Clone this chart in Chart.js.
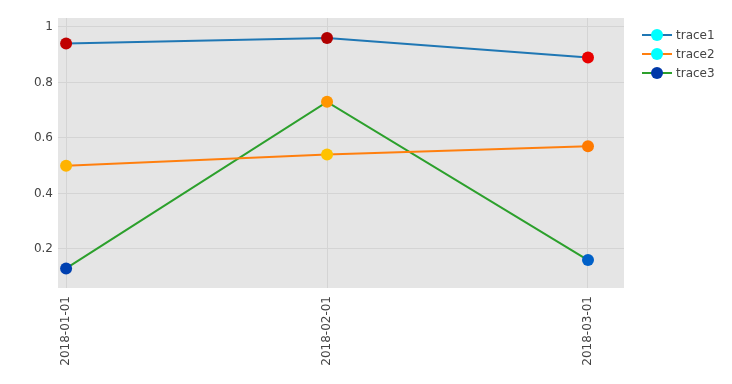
<!DOCTYPE html>
<html>
<head>
<meta charset="utf-8">
<script src="https://cdn.jsdelivr.net/npm/chart.js@4/dist/chart.umd.min.js"></script>
<style>
  html, body { margin: 0; padding: 0; background: #fff; }
  #wrap { width: 732px; height: 384px; }
</style>
</head>
<body>
<div id="wrap"><canvas id="plot"></canvas></div>
<script>
'use strict'
const categories = ['2018-01-01', '2018-02-01', '2018-03-01'];
const yTicks = [0.2, 0.4, 0.6, 0.8, 1];
const traceNames = ['trace1', 'trace2', 'trace3'];
const trace1 = [0.94, 0.96, 0.89];
const trace2 = [0.50, 0.54, 0.57];
const trace3 = [0.13, 0.73, 0.16];

const lineColors = ['#1f77b4', '#ff7f0e', '#2ca02c'];
const markerColors = [
  ['#c00000', '#b00000', '#e80000'],
  ['#ffb300', '#ffc200', '#ff7a00'],
  ['#0040b0', '#ff9500', '#0060c8'],
];
const legendMarkers = ['#00ffff', '#00ffff', '#0038a8'];
const fontFamily = '"DejaVu Sans", Verdana, sans-serif';

{
  const ctx = document.getElementById('plot').getContext('2d');
  const series = [trace1, trace2, trace3];

  const datasets = series.map((vals, i) => ({
    label: traceNames[i],
    data: vals.map((v, j) => ({ x: j, y: v })),
    borderColor: lineColors[i],
    borderWidth: 2,
    pointRadius: 6,
    pointHoverRadius: 6,
    pointBorderWidth: 0,
    pointBackgroundColor: markerColors[i],
    tension: 0,
  }));

  // grey plot background
  const plotBg = {
    id: 'plotBg',
    beforeDraw(chart) {
      const a = chart.chartArea;
      const c = chart.ctx;
      c.save();
      c.fillStyle = '#e5e5e5';
      c.fillRect(a.left, a.top, a.right - a.left, a.bottom - a.top);
      c.restore();
    }
  };

  // plotly style legend: line with marker in middle
  const sideLegend = {
    id: 'sideLegend',
    afterDraw(chart) {
      const c = chart.ctx;
      const x0 = 642;
      c.save();
      chart.data.datasets.forEach((ds, i) => {
        const y = 35 + i * 19;
        c.strokeStyle = ds.borderColor;
        c.lineWidth = 2;
        c.beginPath();
        c.moveTo(x0, y);
        c.lineTo(x0 + 30, y);
        c.stroke();
        c.fillStyle = legendMarkers[i];
        c.beginPath();
        c.arc(x0 + 15, y, 6, 0, Math.PI * 2);
        c.fill();
        c.fillStyle = '#444';
        c.font = '12px ' + fontFamily;
        c.textBaseline = 'middle';
        c.fillText(ds.label, x0 + 34, y + 1);
      });
      c.restore();
    }
  };

  new Chart(ctx, {
    type: 'line',
    data: { datasets: datasets },
    options: {
      animation: false,
      responsive: true,
      maintainAspectRatio: false,
      layout: { padding: { top: 18, right: 108, bottom: 0, left: 0 } },
      plugins: {
        legend: { display: false },
        tooltip: { enabled: false },
      },
      scales: {
        x: {
          type: 'linear',
          min: -0.031,
          max: 2.138,
          afterBuildTicks: scale => { scale.ticks = categories.map((c, i) => ({ value: i })); },
          afterFit: scale => { scale.height = 96; },
          grid: { color: '#d4d4d4', lineWidth: 1, drawTicks: false },
          border: { display: false },
          ticks: {
            minRotation: 90,
            maxRotation: 90,
            padding: 8,
            autoSkip: false,
            color: '#444',
            font: { family: fontFamily, size: 12 },
            callback: v => categories[v],
          },
        },
        y: {
          min: 0.0595,
          max: 1.032,
          afterBuildTicks: scale => { scale.ticks = yTicks.map(v => ({ value: v })); },
          afterFit: scale => { scale.width = 58; },
          grid: { color: '#d4d4d4', lineWidth: 1, drawTicks: false },
          border: { display: false },
          ticks: {
            padding: 5,
            color: '#444',
            font: { family: fontFamily, size: 12 },
            callback: v => String(+v.toFixed(1)),
          },
        },
      },
    },
    plugins: [plotBg, sideLegend],
  });
}
</script>
</body>
</html>
